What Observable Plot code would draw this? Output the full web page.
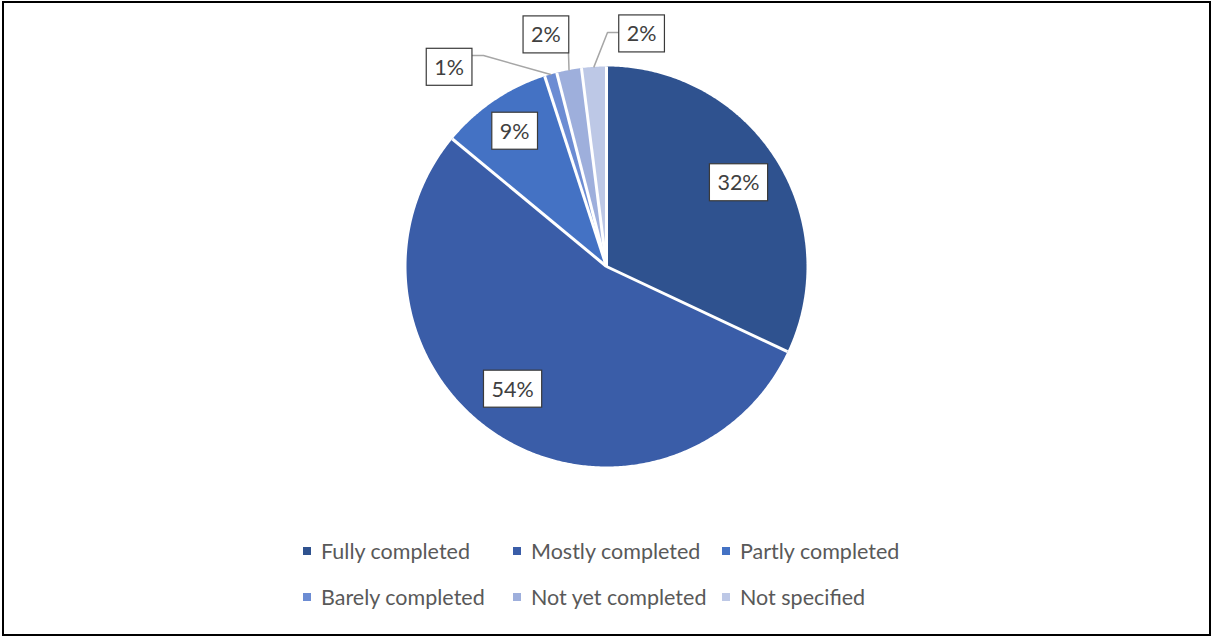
<!DOCTYPE html>
<html>
<head>
<meta charset="utf-8">
<script src="https://cdn.jsdelivr.net/npm/d3@7"></script>
<script src="https://cdn.jsdelivr.net/npm/@observablehq/plot@0.6"></script>
<style>
html, body { margin: 0; padding: 0; background: #fff; }
#chart { position: absolute; left: 0; top: 0; }
#frame { position: absolute; left: 2px; top: 1px; width: 1209px; height: 635px; border: 2px solid #000; box-sizing: border-box; pointer-events: none; }
#legend { position: absolute; left: 303px; top: 537px; display: grid; grid-template-columns: 210px 209px auto; row-gap: 19px; font-family: Lato, sans-serif; font-size: 21.5px; color: #595959; }
.item { display: flex; align-items: center; height: 27px; white-space: nowrap; }
.sw { width: 8px; height: 8px; margin-right: 10px; flex: none; }
</style>
</head>
<body>
<div id="chart"></div>
<div id="legend"></div>
<div id="frame"></div>
<script>
// ---- data ----
const categories = ["Fully completed", "Mostly completed", "Partly completed", "Barely completed", "Not yet completed", "Not specified"];
const shares = [32, 54, 9, 1, 2, 2];
const valueLabels = ["32%", "54%", "9%", "1%", "2%", "2%"];

// ---- styling / layout ----
const palette = ["#2F528F", "#3A5DA8", "#4472C4", "#6C8CD3", "#9EAFDC", "#BDC8E6"];
// label placement in polar form: angle (deg, clockwise from top), radius (fraction of pie radius)
const labelAngle = [57.8, 217.3, 325.7, 321.6, 345.3, 8.6];
const labelRadius = [0.78, 0.775, 0.815, 1.267, 1.194, 1.173];
// leader line bend/end points (pie-radius units) for the outside labels
const leaderBends = {
  3: [[-0.615, 1.055], [-0.675, 1.055]],
  4: [[-0.19, 1.065]],
  5: [[0.005, 1.17], [0.06, 1.17]]
};

const arcs = d3.pie().sort(null).value(d => d)(shares);
const polar = (a, r) => [r * Math.sin(a), r * Math.cos(a)];

const slicePoints = arcs.flatMap((arc, i) => {
  const cat = categories[i];
  const span = arc.endAngle - arc.startAngle;
  const n = Math.max(2, Math.ceil(span / (Math.PI / 360)));
  const pts = [{cat, x: 0, y: 0}];
  for (let k = 0; k <= n; k++) {
    const [x, y] = polar(arc.startAngle + span * k / n, 1);
    pts.push({cat, x, y});
  }
  return pts;
});

const labelData = categories.map((cat, i) => {
  const [x, y] = polar(labelAngle[i] * Math.PI / 180, labelRadius[i]);
  return {cat, x, y, label: valueLabels[i]};
});

const leaderPoints = Object.entries(leaderBends).flatMap(([i, bends]) => {
  const arc = arcs[+i];
  const mid = (arc.startAngle + arc.endAngle) / 2;
  const [x0, y0] = polar(mid, 1);
  return [{cat: categories[+i], x: x0, y: y0}, ...bends.map(([x, y]) => ({cat: categories[+i], x, y}))];
});

const svg = Plot.plot({
  width: 1212,
  height: 520,
  margin: 0,
  x: {domain: [-1, 1], range: [406, 806], axis: null},
  y: {domain: [-1, 1], range: [466, 66], axis: null},
  color: {domain: categories, range: palette},
  style: {fontFamily: "Lato, sans-serif", background: "transparent"},
  marks: [
    Plot.line(slicePoints, {x: "x", y: "y", z: "cat", fill: "cat", stroke: "none", curve: "linear"}),
    Plot.link(arcs, {
      x1: () => 0, y1: () => 0,
      x2: d => Math.sin(d.startAngle), y2: d => Math.cos(d.startAngle),
      stroke: "white", strokeWidth: 3
    }),
    Plot.line(leaderPoints, {x: "x", y: "y", z: "cat", stroke: "#A6A6A6", strokeWidth: 1.5}),
    Plot.text(labelData, {x: "x", y: "y", text: "label", fill: "#404040", fontSize: 21.5})
  ]
});
document.getElementById("chart").append(svg);

// white boxes behind the data labels
const NS = "http://www.w3.org/2000/svg";
svg.querySelectorAll('g[aria-label="text"] text').forEach(t => {
  const b = t.getBBox();
  const r = document.createElementNS(NS, "rect");
  const cy = b.y + b.height / 2;
  r.setAttribute("x", b.x - 8);
  r.setAttribute("y", cy - 18.5);
  r.setAttribute("width", b.width + 16);
  r.setAttribute("height", 37);
  r.setAttribute("fill", "white");
  r.setAttribute("stroke", "#3A3A3A");
  r.setAttribute("stroke-width", 1.2);
  const tr = t.getAttribute("transform");
  if (tr) r.setAttribute("transform", tr);
  t.parentNode.insertBefore(r, t);
});

// legend
const legend = d3.select("#legend");
categories.forEach((cat, i) => {
  const item = legend.append("div").attr("class", "item");
  item.append("div").attr("class", "sw").style("background", palette[i]);
  item.append("span").text(cat);
});
</script>
</body>
</html>
